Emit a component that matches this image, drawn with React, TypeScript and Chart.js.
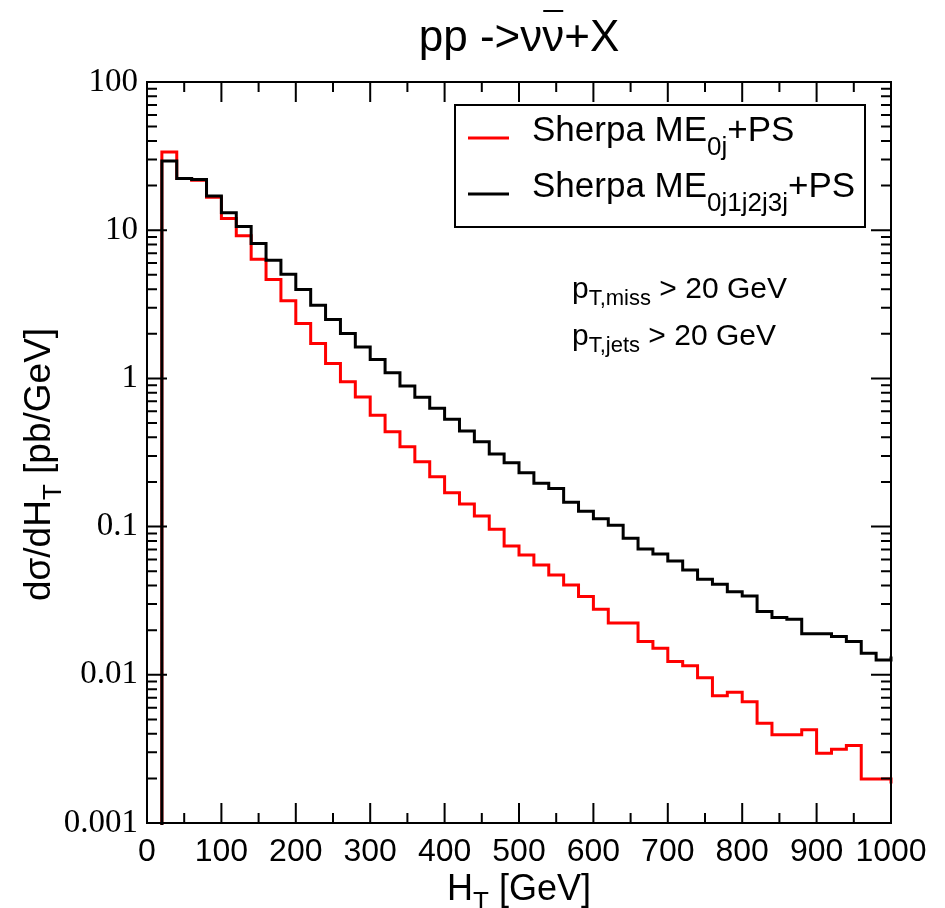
import React, { useEffect, useRef } from 'react';
import { Chart, registerables } from 'chart.js';

Chart.register(...registerables);

// ---- data ----
const binLowEdges = [
  20, 40, 60, 80, 100, 120, 140, 160, 180, 200,
  220, 240, 260, 280, 300, 320, 340, 360, 380, 400,
  420, 440, 460, 480, 500, 520, 540, 560, 580, 600,
  620, 640, 660, 680, 700, 720, 740, 760, 780, 800,
  820, 840, 860, 880, 900, 920, 940, 960, 980,
];
const histEnd = 1000;

const me0j = [
  33.7, 22.3, 21.7, 16.7, 12.0, 9.16, 6.37, 4.65, 3.34, 2.35,
  1.72, 1.26, 0.948, 0.75, 0.565, 0.436, 0.346, 0.274, 0.217, 0.169,
  0.142, 0.118, 0.096, 0.074, 0.0643, 0.0551, 0.0472, 0.0404, 0.0337, 0.0277,
  0.0224, 0.0224, 0.0168, 0.0151, 0.0123, 0.0115, 0.00957, 0.00721, 0.00764, 0.00659,
  0.00471, 0.00394, 0.00394, 0.00425, 0.00296, 0.00315, 0.00334, 0.00198, 0.00198,
];
const me0jOverflow = 0.00185;

const me0j1j2j3j = [
  29.3, 22.3, 22.0, 17.0, 13.1, 10.6, 8.13, 6.28, 5.05, 3.98,
  3.12, 2.50, 2.01, 1.63, 1.34, 1.09, 0.887, 0.745, 0.628, 0.53,
  0.441, 0.373, 0.309, 0.27, 0.231, 0.196, 0.181, 0.146, 0.127, 0.113,
  0.102, 0.0834, 0.0706, 0.0653, 0.0586, 0.0509, 0.0442, 0.0408, 0.0364, 0.034,
  0.0267, 0.0244, 0.0237, 0.0189, 0.0189, 0.0181, 0.0168, 0.014, 0.0126,
];
const me0j1j2j3jOverflow = 0.0133;

const xTickValues = [0, 100, 200, 300, 400, 500, 600, 700, 800, 900, 1000];
const xTickLabels = ['0', '100', '200', '300', '400', '500', '600', '700', '800', '900', '1000'];
const xMinorValues = [50, 150, 250, 350, 450, 550, 650, 750, 850, 950];
const yTickValues = [0.001, 0.01, 0.1, 1, 10, 100];
const yTickLabels = ['0.001', '0.01', '0.1', '1', '10', '100'];
const yMinorMultipliers = [2, 3, 4, 5, 6, 7, 8, 9];

const seriesNames = [
  { base: 'Sherpa ME', sub: '0j', tail: '+PS', color: '#ff0000' },
  { base: 'Sherpa ME', sub: '0j1j2j3j', tail: '+PS', color: '#000000' },
];

const SANS = '"Liberation Sans", Arial, sans-serif';
const SERIF = '"Liberation Serif", "Times New Roman", serif';

function histPoints(values: number[], overflow: number) {
  const pts: { x: number; y: number }[] = [{ x: binLowEdges[0], y: 1e-9 }];
  values.forEach((v, i) => pts.push({ x: binLowEdges[i], y: v }));
  pts.push({ x: histEnd, y: overflow });
  return pts;
}

type Part = { t: string; sub?: boolean };

function drawRich(ctx: CanvasRenderingContext2D, parts: Part[], x: number, y: number, size: number, subSize: number, subShift: number, measureOnly = false) {
  let cx = x;
  for (const p of parts) {
    ctx.font = `${p.sub ? subSize : size}px ${SANS}`;
    if (!measureOnly) ctx.fillText(p.t, cx, p.sub ? y + subShift : y);
    cx += ctx.measureText(p.t).width;
  }
  return cx - x;
}

const framePlugin = {
  id: 'framePlugin',
  afterDraw(chart: any) {
    const ctx: CanvasRenderingContext2D = chart.ctx;
    const { left, right, top, bottom } = chart.chartArea;
    const xs = chart.scales.x;
    const ys = chart.scales.y;
    ctx.save();
    ctx.strokeStyle = '#000';
    ctx.lineWidth = 2;
    ctx.strokeRect(left, top, right - left, bottom - top);

    const major = 20;
    const minor = 10;
    ctx.beginPath();
    xTickValues.forEach((v) => {
      const px = xs.getPixelForValue(v);
      ctx.moveTo(px, bottom); ctx.lineTo(px, bottom - major);
      ctx.moveTo(px, top); ctx.lineTo(px, top + major);
    });
    xMinorValues.forEach((v) => {
      const px = xs.getPixelForValue(v);
      ctx.moveTo(px, bottom); ctx.lineTo(px, bottom - minor);
      ctx.moveTo(px, top); ctx.lineTo(px, top + minor);
    });
    yTickValues.forEach((v) => {
      const py = ys.getPixelForValue(v);
      ctx.moveTo(left, py); ctx.lineTo(left + major, py);
      ctx.moveTo(right, py); ctx.lineTo(right - major, py);
    });
    yTickValues.slice(0, -1).forEach((d) => {
      yMinorMultipliers.forEach((m) => {
        const py = ys.getPixelForValue(d * m);
        ctx.moveTo(left, py); ctx.lineTo(left + minor, py);
        ctx.moveTo(right, py); ctx.lineTo(right - minor, py);
      });
    });
    ctx.stroke();

    ctx.fillStyle = '#000';
    ctx.textBaseline = 'alphabetic';
    ctx.textAlign = 'left';

    // title: pp ->νν̄+X
    const tSize = 44;
    ctx.font = `${tSize}px ${SANS}`;
    const t1 = 'pp ->ν';
    const t2 = 'ν';
    const t3 = '+X';
    const w1 = ctx.measureText(t1).width;
    const w2 = ctx.measureText(t2).width;
    const w3 = ctx.measureText(t3).width;
    const cxm = (left + right) / 2;
    const tx = cxm - (w1 + w2 + w3) / 2;
    const ty = top - 31;
    ctx.fillText(t1, tx, ty);
    ctx.fillText(t2, tx + w1, ty);
    ctx.fillText(t3, tx + w1 + w2, ty);
    ctx.lineWidth = 2;
    ctx.beginPath();
    ctx.moveTo(tx + w1 + 1, ty - 40);
    ctx.lineTo(tx + w1 + w2 - 1, ty - 40);
    ctx.stroke();

    // x title
    const xParts: Part[] = [{ t: 'H' }, { t: 'T', sub: true }, { t: ' [GeV]' }];
    const xw = drawRich(ctx, xParts, 0, 0, 36, 26, 10, true);
    drawRich(ctx, xParts, cxm - xw / 2, bottom + 77, 36, 26, 10);

    // y title
    const yParts: Part[] = [{ t: 'dσ/dH' }, { t: 'T', sub: true }, { t: ' [pb/GeV]' }];
    const yw = drawRich(ctx, yParts, 0, 0, 37, 26, 11, true);
    ctx.save();
    ctx.translate(left - 97, (top + bottom) / 2 + 12);
    ctx.rotate(-Math.PI / 2);
    drawRich(ctx, yParts, -yw / 2, 0, 37, 26, 11);
    ctx.restore();

    // legend
    const lx = left + 308;
    const ly = top + 23;
    const lw = 410;
    const lh = 122;
    ctx.lineWidth = 2;
    ctx.strokeRect(lx, ly, lw, lh);
    seriesNames.forEach((s, i) => {
      const yy = ly + 36 + i * 56;
      ctx.strokeStyle = s.color;
      ctx.lineWidth = 3;
      ctx.beginPath();
      ctx.moveTo(lx + 13, yy - 3);
      ctx.lineTo(lx + 54, yy - 3);
      ctx.stroke();
      ctx.fillStyle = '#000';
      drawRich(ctx, [{ t: s.base }, { t: s.sub, sub: true }, { t: s.tail }], lx + 77, yy, 35, 26, 14);
    });

    // annotations
    ctx.fillStyle = '#000';
    drawRich(ctx, [{ t: 'p' }, { t: 'T,miss', sub: true }, { t: ' > 20 GeV' }], left + 425, top + 216, 30, 22, 7);
    drawRich(ctx, [{ t: 'p' }, { t: 'T,jets', sub: true }, { t: ' > 20 GeV' }], left + 425, top + 263, 30, 22, 7);
    ctx.restore();
  },
};

export default function App() {
  const canvasRef = useRef<HTMLCanvasElement | null>(null);
  useEffect(() => {
    const canvas = canvasRef.current;
    if (!canvas) return;
    const chart = new Chart(canvas, {
      type: 'line',
      data: {
        datasets: [
          {
            label: 'Sherpa ME0j1j2j3j+PS',
            data: histPoints(me0j1j2j3j, me0j1j2j3jOverflow),
            borderColor: '#000000',
            borderWidth: 3,
            stepped: true,
            pointRadius: 0,
            fill: false,
            clip: 2,
          },
          {
            label: 'Sherpa ME0j+PS',
            data: histPoints(me0j, me0jOverflow),
            borderColor: '#ff0000',
            borderWidth: 3,
            stepped: true,
            pointRadius: 0,
            fill: false,
            clip: 2,
          },
        ],
      },
      options: {
        animation: false,
        responsive: true,
        maintainAspectRatio: false,
        layout: { padding: { left: 0, top: 82, right: 54, bottom: 0 } },
        plugins: { legend: { display: false }, tooltip: { enabled: false }, title: { display: false } },
        scales: {
          x: {
            type: 'linear',
            min: 0,
            max: 1000,
            grid: { display: false, drawTicks: false },
            border: { display: false },
            afterBuildTicks: (scale: any) => { scale.ticks = xTickValues.map((v) => ({ value: v })); },
            afterFit: (scale: any) => { scale.height = 85; },
            ticks: {
              autoSkip: false,
              maxRotation: 0,
              padding: 10,
              color: '#000',
              font: { family: SANS, size: 32 },
              callback: (_v: any, i: number) => xTickLabels[i],
            },
          },
          y: {
            type: 'logarithmic',
            min: 0.001,
            max: 100,
            grid: { display: false, drawTicks: false },
            border: { display: false },
            afterBuildTicks: (scale: any) => { scale.ticks = yTickValues.map((v) => ({ value: v })); },
            afterFit: (scale: any) => { scale.width = 147; },
            ticks: {
              autoSkip: false,
              padding: 9,
              color: '#000',
              font: { family: SERIF, size: 33 },
              callback: (_v: any, i: number) => yTickLabels[i],
            },
          },
        },
      },
      plugins: [framePlugin],
    });
    return () => chart.destroy();
  }, []);
  return (
    <div style={{ position: 'absolute', left: 0, top: 0, width: 945, height: 908, background: '#fff' }}>
      <canvas ref={canvasRef} />
    </div>
  );
}
